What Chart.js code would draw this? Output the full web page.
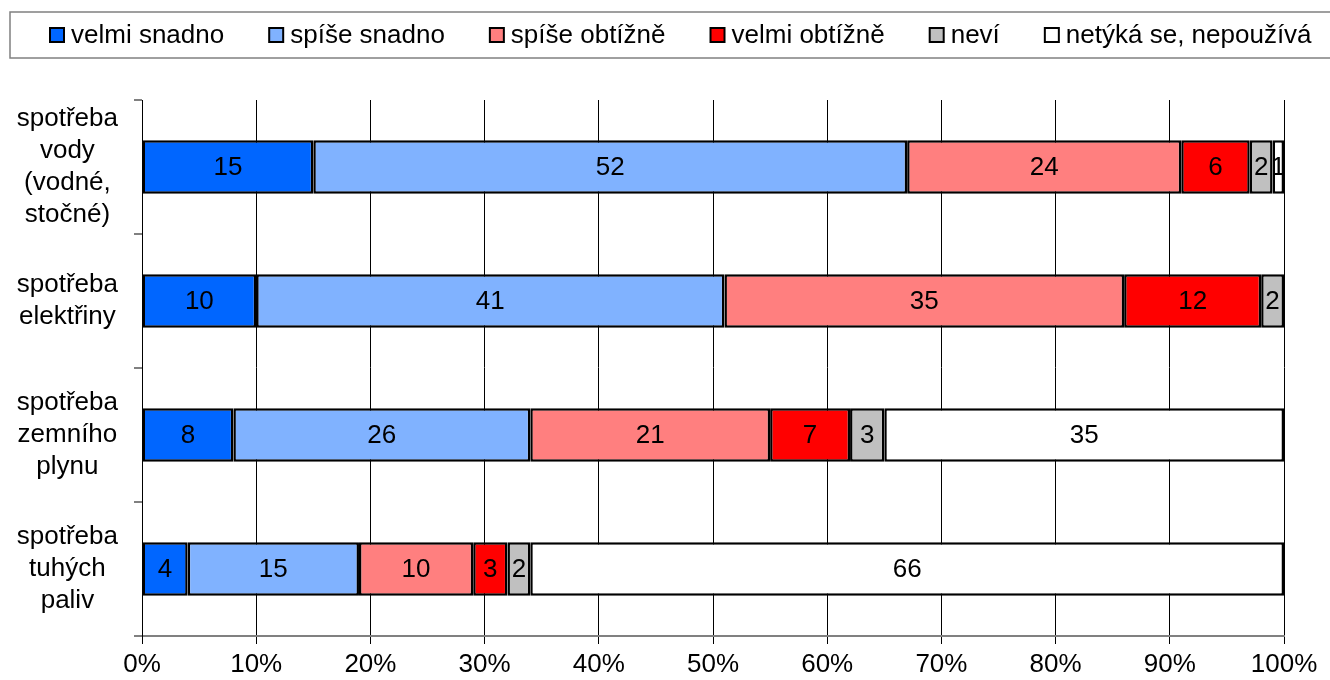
<!DOCTYPE html>
<html>
<head>
<meta charset="utf-8">
<script src="https://cdn.jsdelivr.net/npm/chart.js@4"></script>
<style>
  body { margin: 0; background: #fff; }
  #wrap { width: 1330px; height: 680px; }
</style>
</head>
<body>
<div id="wrap"><canvas id="graf"></canvas></div>
<script>
// kategorie (osa y)
const kategorie = [
    ['spotřeba', 'vody', '(vodné,', 'stočné)'],
    ['spotřeba', 'elektřiny'],
    ['spotřeba', 'zemního', 'plynu'],
    ['spotřeba', 'tuhých', 'paliv']
];

// hodnoty v %
const velmiSnadno = [15, 10, 8, 4];
const spiseSnadno = [52, 41, 26, 15];
const spiseObtizne = [24, 35, 21, 10];
const velmiObtizne = [6, 12, 7, 3];
const nevi = [2, 2, 3, 2];
const netyka = [1, 0, 35, 66];

const xTicky = [0, 10, 20, 30, 40, 50, 60, 70, 80, 90, 100];

const FONT = "'Liberation Sans', Arial, sans-serif";

// popisky hodnot uvnitr segmentu
const popiskyPlugin = {
    id: 'popisky',
    afterDatasetsDraw(chart) {
        const ctx = chart.ctx;
        ctx.save();
        ctx.font = '26px ' + FONT;
        ctx.fillStyle = '#000';
        ctx.textAlign = 'center';
        ctx.textBaseline = 'middle';
        chart.data.datasets.forEach((ds, i) => {
            const meta = chart.getDatasetMeta(i);
            meta.data.forEach((bar, j) => {
                const v = ds.data[j];
                if (!v) return;
                ctx.fillText(String(v), bar.x - (bar.x - bar.base) / 2, bar.y + 1);
            });
        });
        ctx.restore();
    }
};

// legenda v ramecku nahore
const legendaPlugin = {
    id: 'legenda',
    afterDraw(chart) {
        const ctx = chart.ctx;
        ctx.save();
        ctx.strokeStyle = '#808080';
        ctx.lineWidth = 1.5;
        ctx.strokeRect(10, 12, 1330, 46);
        ctx.font = '26px ' + FONT;
        ctx.textBaseline = 'middle';
        ctx.textAlign = 'left';
        let x = 50;
        const y = 35;
        chart.data.datasets.forEach(ds => {
            ctx.fillStyle = ds.backgroundColor;
            ctx.fillRect(x, y - 7, 14, 14);
            ctx.strokeStyle = '#000';
            ctx.lineWidth = 2;
            ctx.strokeRect(x, y - 7, 14, 14);
            ctx.fillStyle = '#000';
            ctx.fillText(ds.label, x + 21, y + 1);
            x += 21 + ctx.measureText(ds.label).width + 45;
        });
        ctx.restore();
    }
};

function sada(label, data, barva) {
    return {
        label: label,
        data: data,
        backgroundColor: barva,
        borderColor: '#000',
        borderWidth: 2.5,
        borderSkipped: false,
        barPercentage: 0.4,
        categoryPercentage: 1
    };
}

new Chart(document.getElementById('graf').getContext('2d'), {
    type: 'bar',
    data: {
        labels: kategorie,
        datasets: [
            sada('velmi snadno', velmiSnadno, '#0066FF'),
            sada('spíše snadno', spiseSnadno, '#80B2FF'),
            sada('spíše obtížně', spiseObtizne, '#FF7F7F'),
            sada('velmi obtížně', velmiObtizne, '#FF0000'),
            sada('neví', nevi, '#C0C0C0'),
            sada('netýká se, nepoužívá', netyka, '#FFFFFF')
        ]
    },
    options: {
        indexAxis: 'y',
        responsive: true,
        maintainAspectRatio: false,
        animation: false,
        layout: { padding: { top: 100, right: 46, left: 0, bottom: 0 } },
        plugins: {
            legend: { display: false },
            tooltip: { enabled: false }
        },
        scales: {
            x: {
                stacked: true,
                min: 0,
                max: 100,
                afterBuildTicks: s => { s.ticks = xTicky.map(v => ({ value: v })); },
                afterFit: s => { s.height = 44; },
                ticks: {
                    callback: v => v + '%',
                    color: '#000',
                    font: { size: 26, family: FONT, lineHeight: 1.05 },
                    padding: 7,
                    maxRotation: 0,
                    autoSkip: false
                },
                grid: { color: '#000', lineWidth: 1, tickLength: 8 },
                border: { color: '#808080', width: 2 }
            },
            y: {
                stacked: true,
                afterFit: s => {
                    s.width = 142;
                    s.paddingTop = 0;
                    s.paddingBottom = 0;
                },
                ticks: {
                    color: '#000',
                    font: { size: 26, family: FONT, lineHeight: 1.23 },
                    crossAlign: 'center',
                    padding: 16
                },
                grid: { drawOnChartArea: false, offset: true, tickLength: 8, color: '#808080', lineWidth: 2 },
                border: { color: '#000', width: 1 }
            }
        }
    },
    plugins: [popiskyPlugin, legendaPlugin]
});
</script>
</body>
</html>
